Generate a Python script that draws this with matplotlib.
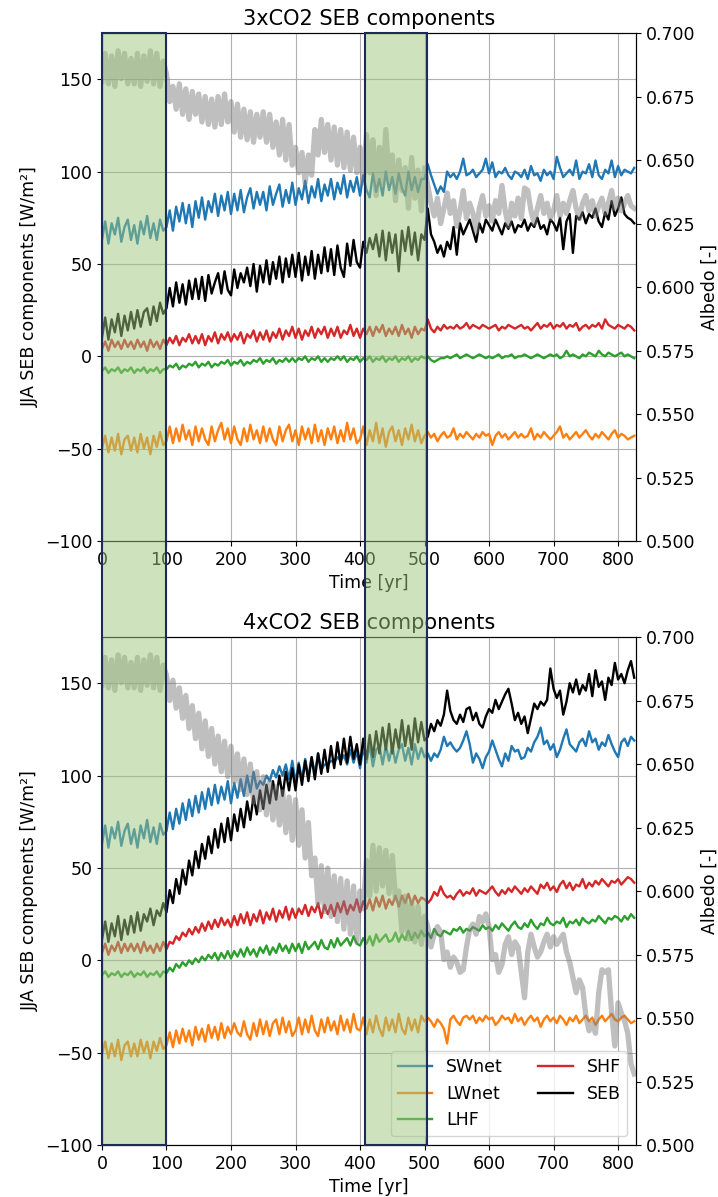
import matplotlib
matplotlib.use("Agg")
import matplotlib.pyplot as plt
import numpy as np
from matplotlib.patches import Rectangle

# years, 5-yr steps
years = np.arange(0, 826, 5)

# ---- 3xCO2 (W/m2) ----
sw_3x = [63, 73, 61, 72, 66, 75, 62, 70, 74, 63,
         71, 61, 73, 66, 76, 64, 72, 63, 74, 68,
         70, 79, 68, 81, 73, 83, 72, 82, 70, 84,
         75, 86, 74, 84, 78, 88, 76, 87, 79, 89,
         77, 88, 79, 90, 78, 86, 91, 80, 89, 82,
         89, 79, 92, 82, 88, 93, 81, 90, 83, 94,
         82, 91, 85, 95, 83, 92, 86, 96, 84, 93,
         87, 96, 85, 94, 88, 98, 86, 95, 89, 97,
         87, 98, 90, 86, 99, 89, 96, 87, 100, 90,
         97, 88, 99, 91, 87, 100, 90, 97, 89, 96,
         96, 104, 98, 93, 88, 92, 89, 100, 97, 99,
         96, 100, 107, 98, 99, 101, 97, 99, 101, 107,
         99, 105, 97, 100, 99, 102, 98, 96, 100, 99,
         97, 101, 96, 103, 98, 99, 95, 101, 98, 100,
         96, 108, 102, 97, 99, 101, 98, 106, 96, 100,
         99, 104, 97, 106, 98, 96, 101, 99, 106, 97,
         103, 98, 101, 100, 99, 102]
lw_3x = [-50, -43, -52, -44, -51, -42, -53, -45, -43, -51,
         -44, -52, -42, -50, -44, -53, -43, -49, -41, -48,
         -46, -38, -47, -39, -46, -37, -45, -40, -48, -38,
         -46, -39, -45, -48, -38, -46, -40, -36, -45, -39,
         -47, -38, -45, -48, -39, -46, -37, -45, -40, -47,
         -38, -46, -39, -45, -48, -38, -46, -40, -37, -46,
         -40, -48, -38, -45, -39, -47, -37, -46, -40, -48,
         -39, -45, -38, -47, -40, -46, -36, -45, -39, -47,
         -45, -38, -48, -40, -46, -36, -47, -39, -49, -41,
         -38, -46, -40, -48, -39, -45, -37, -46, -40, -47,
         -43, -41, -44, -42, -46, -43, -41, -44, -43, -39,
         -45, -42, -44, -41, -43, -45, -42, -44, -41, -43,
         -42, -48, -43, -41, -44, -42, -45, -43, -41, -44,
         -42, -44, -43, -39, -45, -42, -44, -41, -43, -45,
         -43, -41, -38, -44, -42, -45, -43, -41, -44, -42,
         -40, -43, -45, -42, -44, -41, -43, -45, -42, -40,
         -44, -42, -43, -45, -44, -43]
lhf_3x = [-8, -6, -9, -7, -8, -6, -9, -7, -8, -6,
          -9, -7, -8, -6, -9, -7, -8, -6, -9, -7,
          -7, -5, -6, -4, -7, -5, -6, -4, -5, -3,
          -6, -4, -5, -3, -6, -4, -5, -3, -4, -2,
          -5, -3, -4, -2, -5, -3, -4, -2, -3, -1,
          -4, -2, -3, -1, -4, -2, -3, -1, -3, -1,
          -3, -1, -2, 0, -3, -1, -2, 0, -3, -1,
          -3, -1, -2, 0, -2, 0, -3, -1, -2, 0,
          -3, -1, -2, 0, -3, -1, -2, 0, -3, -1,
          -2, 0, -3, -1, -2, 0, -3, -1, -2, 0,
          -1, 0, -2, -3, -2, -1, -1, 0, -1, 0,
          1, -1, 0, 1, 0, -1, 0, 1, 0, -1,
          0, -1, 0, 1, -1, 0, 0, 1, -1, 0,
          0, 1, 0, -1, 0, 1, 0, -1, 0, 1,
          0, 1, -1, 0, 3, 0, 1, 0, -1, 1,
          0, 2, 1, 0, 3, 1, 0, 2, 1, 0,
          1, 2, 0, 1, 0, -1]
shf_3x = [4, 8, 3, 9, 5, 8, 4, 9, 5, 8,
          4, 9, 5, 8, 3, 9, 5, 8, 4, 9,
          6, 10, 7, 11, 6, 10, 8, 12, 7, 11,
          7, 12, 6, 11, 8, 13, 7, 12, 9, 13,
          8, 12, 9, 13, 7, 12, 10, 14, 8, 13,
          9, 14, 8, 13, 10, 15, 9, 14, 11, 16,
          10, 15, 9, 14, 11, 16, 10, 15, 12, 16,
          10, 15, 11, 16, 10, 14, 12, 17, 11, 15,
          10, 15, 12, 16, 11, 16, 13, 17, 11, 15,
          12, 16, 11, 17, 12, 15, 10, 16, 12, 15,
          14, 20, 15, 13, 16, 14, 17, 15, 16, 15,
          17, 15, 16, 18, 15, 17, 16, 15, 17, 16,
          15, 16, 17, 14, 16, 15, 17, 16, 15, 16,
          17, 15, 16, 14, 16, 18, 15, 17, 16, 18,
          15, 17, 16, 18, 15, 17, 16, 18, 14, 16,
          17, 15, 17, 16, 18, 15, 20, 17, 16, 15,
          17, 16, 15, 17, 16, 14]
seb_3x = [10, 21, 9, 20, 13, 23, 11, 22, 14, 24,
          15, 25, 16, 24, 26, 17, 27, 19, 29, 23,
          26, 37, 27, 40, 29, 39, 28, 41, 31, 42,
          31, 43, 30, 44, 34, 40, 45, 34, 46, 36,
          33, 47, 37, 45, 40, 48, 38, 50, 35, 49,
          40, 52, 39, 51, 42, 54, 40, 53, 43, 55,
          43, 56, 41, 54, 44, 57, 42, 55, 45, 59,
          46, 58, 44, 60, 48, 43, 61, 49, 63, 51,
          48, 62, 56, 64, 58, 66, 54, 68, 52, 67,
          56, 66, 46, 68, 57, 70, 55, 67, 52, 66,
          63, 80, 66, 62, 56, 60, 54, 62, 58, 70,
          55, 72, 66, 70, 74, 68, 62, 72, 67, 74,
          71, 68, 74, 70, 66, 72, 69, 73, 67, 71,
          70, 74, 68, 72, 70, 75, 69, 71, 66, 74,
          72, 68, 75, 58, 73, 77, 56, 76, 74, 78,
          72, 77, 75, 80, 73, 70, 78, 74, 84, 76,
          80, 86, 77, 75, 74, 72]
alb_3x = [0.681, 0.692, 0.680, 0.691, 0.679, 0.693, 0.682, 0.692, 0.680, 0.690,
          0.680, 0.692, 0.679, 0.691, 0.681, 0.693, 0.680, 0.692, 0.679, 0.689,
          0.684, 0.673, 0.679, 0.670, 0.680, 0.668, 0.678, 0.666, 0.677, 0.668,
          0.676, 0.665, 0.675, 0.664, 0.674, 0.663, 0.675, 0.664, 0.676, 0.665,
          0.673, 0.661, 0.672, 0.659, 0.670, 0.658, 0.669, 0.657, 0.668, 0.659,
          0.669, 0.657, 0.668, 0.655, 0.665, 0.652, 0.666, 0.650, 0.664, 0.648,
          0.655, 0.645, 0.653, 0.641, 0.652, 0.644, 0.662, 0.652, 0.666, 0.653,
          0.664, 0.650, 0.663, 0.648, 0.662, 0.647, 0.661, 0.646, 0.659, 0.645,
          0.655, 0.641, 0.660, 0.645, 0.658, 0.636, 0.655, 0.640, 0.662, 0.642,
          0.652, 0.634, 0.650, 0.638, 0.647, 0.631, 0.651, 0.635, 0.646, 0.630,
          0.647, 0.640, 0.633, 0.628, 0.635, 0.625, 0.631, 0.637, 0.629, 0.634,
          0.624, 0.630, 0.638, 0.627, 0.633, 0.629, 0.622, 0.631, 0.636, 0.628,
          0.632, 0.626, 0.634, 0.629, 0.640, 0.630, 0.624, 0.633, 0.628, 0.635,
          0.627, 0.639, 0.638, 0.630, 0.625, 0.631, 0.636, 0.629, 0.633, 0.627,
          0.630, 0.636, 0.628, 0.633, 0.629, 0.634, 0.638, 0.631, 0.627, 0.633,
          0.636, 0.630, 0.634, 0.628, 0.632, 0.635, 0.629, 0.633, 0.638, 0.631,
          0.635, 0.630, 0.633, 0.636, 0.632, 0.631]

# ---- 4xCO2 (W/m2) ----
sw_4x = [63, 73, 61, 72, 66, 75, 62, 70, 74, 63,
         71, 61, 73, 66, 76, 64, 72, 63, 74, 68,
         70, 80, 71, 82, 74, 85, 76, 87, 78, 89,
         80, 91, 82, 93, 84, 95, 85, 94, 87, 97,
         85, 96, 88, 98, 89, 100, 91, 102, 93, 97,
         95, 100, 97, 103, 99, 105, 100, 106, 98, 108,
         96, 107, 98, 109, 99, 110, 101, 112, 103, 106,
         106, 108, 107, 110, 108, 111, 106, 114, 107, 113,
         104, 115, 107, 117, 105, 114, 116, 106, 116, 108,
         116, 107, 114, 117, 108, 115, 106, 117, 109, 115,
         110, 112, 108, 112, 110, 114, 121, 116, 118, 115,
         113, 115, 119, 124, 117, 107, 112, 109, 104, 110,
         113, 119, 114, 109, 105, 112, 108, 116, 113, 114,
         109, 110, 115, 113, 118, 121, 126, 117, 119, 114,
         117, 110, 114, 120, 125, 117, 115, 113, 118, 120,
         116, 124, 118, 120, 114, 118, 116, 122, 117, 113,
         110, 118, 120, 116, 121, 119]
lw_4x = [-51, -44, -53, -45, -52, -43, -54, -46, -44, -52,
         -45, -52, -43, -50, -44, -53, -44, -49, -42, -48,
         -46, -39, -47, -38, -45, -37, -44, -38, -46, -36,
         -43, -37, -44, -35, -42, -36, -43, -34, -42, -36,
         -40, -34, -39, -41, -33, -40, -43, -34, -41, -32,
         -40, -33, -41, -34, -32, -40, -31, -39, -33, -41,
         -38, -31, -40, -32, -39, -30, -38, -41, -32, -39,
         -31, -38, -33, -40, -30, -38, -32, -39, -29, -37,
         -38, -31, -40, -32, -39, -30, -37, -41, -31, -38,
         -32, -39, -29, -37, -40, -31, -38, -32, -39, -30,
         -33, -31, -33, -36, -32, -34, -37, -45, -32, -30,
         -33, -35, -31, -30, -32, -30, -34, -31, -33, -30,
         -32, -31, -35, -33, -30, -32, -31, -34, -29, -33,
         -31, -35, -32, -30, -33, -31, -36, -32, -30, -33,
         -31, -34, -30, -32, -35, -31, -33, -30, -34, -32,
         -30, -33, -31, -35, -32, -30, -33, -31, -29, -32,
         -33, -31, -30, -32, -34, -33]
lhf_4x = [-8, -6, -9, -7, -8, -6, -9, -7, -8, -6,
          -9, -7, -8, -6, -9, -7, -8, -6, -9, -6,
          -7, -4, -6, -2, -4, -1, -3, 0, -2, 1,
          -1, 2, 0, 3, 1, 4, 0, 4, 1, 5,
          1, 5, 2, 6, 2, 7, 3, 6, 2, 7,
          4, 8, 3, 7, 4, 9, 5, 8, 4, 9,
          5, 9, 4, 10, 6, 8, 10, 6, 11, 7,
          6, 11, 7, 12, 8, 10, 12, 8, 13, 9,
          8, 12, 9, 13, 8, 14, 10, 12, 14, 10,
          11, 15, 10, 14, 11, 16, 11, 15, 12, 16,
          13, 15, 12, 17, 14, 13, 16, 15, 14, 17,
          16, 18, 15, 17, 16, 18, 17, 16, 19, 17,
          18, 16, 19, 17, 20, 18, 16, 19, 21, 18,
          17, 20, 18, 22, 19, 17, 20, 19, 23, 20,
          19, 21, 20, 23, 18, 21, 20, 22, 19, 23,
          21, 20, 22, 21, 24, 22, 20, 23, 22, 24,
          23, 21, 24, 22, 25, 23]
shf_4x = [4, 9, 3, 8, 5, 10, 4, 9, 5, 9,
          5, 9, 4, 10, 5, 8, 4, 9, 5, 10,
          6, 10, 9, 13, 11, 15, 13, 17, 14, 18,
          15, 20, 16, 21, 17, 22, 18, 23, 19, 22,
          18, 24, 19, 25, 20, 26, 19, 25, 21, 27,
          20, 26, 22, 28, 21, 27, 23, 29, 22, 28,
          23, 28, 25, 30, 24, 29, 26, 31, 23, 30,
          25, 30, 24, 31, 26, 32, 25, 30, 27, 33,
          26, 32, 28, 33, 27, 34, 29, 35, 28, 33,
          30, 35, 29, 35, 31, 36, 30, 35, 31, 34,
          33, 31, 33, 37, 35, 40, 36, 34, 35, 33,
          36, 38, 35, 37, 36, 39, 35, 38, 37, 36,
          38, 40, 37, 35, 38, 36, 39, 37, 40, 38,
          36, 39, 37, 40, 38, 36, 41, 39, 42, 38,
          40, 37, 41, 43, 39, 42, 38, 41, 40, 44,
          39, 42, 40, 43, 41, 44, 42, 40, 43, 42,
          44, 41, 43, 45, 44, 42]
seb_4x = [11, 21, 10, 20, 13, 24, 11, 22, 14, 24,
          15, 26, 16, 25, 21, 28, 19, 27, 24, 31,
          26, 38, 31, 44, 36, 49, 41, 54, 46, 59,
          50, 63, 55, 67, 58, 71, 61, 74, 64, 77,
          65, 79, 70, 82, 72, 86, 76, 89, 79, 92,
          82, 95, 85, 97, 87, 100, 89, 102, 92, 104,
          92, 106, 95, 108, 97, 110, 98, 112, 101, 114,
          102, 116, 104, 118, 106, 120, 107, 121, 109, 117,
          106, 120, 109, 122, 110, 124, 112, 126, 114, 128,
          112, 125, 115, 130, 116, 127, 114, 131, 118, 129,
          119, 121, 128, 124, 130, 127, 133, 146, 135, 130,
          128, 133, 129, 136, 137, 130, 134, 128, 126, 132,
          136, 134, 141, 136, 140, 144, 147, 139, 130, 134,
          128, 132, 123, 131, 139, 136, 140, 138, 141, 158,
          147, 142, 146, 133, 140, 150, 145, 152, 144, 149,
          146, 155, 143, 157, 148, 151, 141, 153, 149, 161,
          152, 155, 150, 157, 162, 153]
alb_4x = [0.681, 0.692, 0.680, 0.691, 0.679, 0.693, 0.682, 0.692, 0.680, 0.690,
          0.680, 0.692, 0.679, 0.691, 0.681, 0.693, 0.680, 0.692, 0.679, 0.689,
          0.685, 0.675, 0.683, 0.672, 0.680, 0.668, 0.677, 0.664, 0.673, 0.660,
          0.670, 0.656, 0.667, 0.653, 0.664, 0.650, 0.661, 0.647, 0.659, 0.645,
          0.657, 0.643, 0.654, 0.640, 0.652, 0.638, 0.650, 0.635, 0.647, 0.632,
          0.645, 0.630, 0.643, 0.628, 0.641, 0.626, 0.639, 0.623, 0.637, 0.620,
          0.636, 0.618, 0.632, 0.613, 0.627, 0.606, 0.613, 0.595, 0.610, 0.592,
          0.609, 0.590, 0.606, 0.588, 0.605, 0.585, 0.604, 0.583, 0.602, 0.580,
          0.600, 0.593, 0.612, 0.598, 0.618, 0.600, 0.617, 0.602, 0.616, 0.599,
          0.614, 0.597, 0.600, 0.584, 0.598, 0.581, 0.596, 0.580, 0.594, 0.579,
          0.590, 0.586, 0.578, 0.583, 0.586, 0.584, 0.573, 0.576, 0.570, 0.574,
          0.572, 0.568, 0.569, 0.578, 0.585, 0.587, 0.583, 0.590, 0.588, 0.591,
          0.586, 0.573, 0.575, 0.568, 0.571, 0.579, 0.582, 0.575, 0.580, 0.578,
          0.568, 0.558, 0.576, 0.583, 0.578, 0.574, 0.576, 0.580, 0.583, 0.578,
          0.582, 0.579, 0.581, 0.583, 0.576, 0.572, 0.566, 0.560, 0.565, 0.562,
          0.551, 0.545, 0.548, 0.544, 0.560, 0.569, 0.568, 0.569, 0.552, 0.539,
          0.556, 0.552, 0.549, 0.544, 0.532, 0.528]

labels = ['SWnet', 'LWnet', 'LHF', 'SHF', 'SEB']
colors = ['tab:blue', 'tab:orange', 'tab:green', 'tab:red', 'black']
periods = [(0, 100), (407, 504)]

plt.rcParams['font.size'] = 12.5

fig = plt.figure(figsize=(7.18, 11.97), dpi=100)
ax_top = fig.add_axes([0.142, 0.548, 0.744, 0.4244])
ax_bot = fig.add_axes([0.142, 0.0434, 0.744, 0.4244])

panels = [
    (ax_top, '3xCO2 SEB components', [sw_3x, lw_3x, lhf_3x, shf_3x, seb_3x], alb_3x),
    (ax_bot, '4xCO2 SEB components', [sw_4x, lw_4x, lhf_4x, shf_4x, seb_4x], alb_4x),
]

for ax, title, series, alb in panels:
    for vals, lab, col in zip(series, labels, colors):
        ax.plot(years, vals, color=col, lw=1.7, label=lab)
    ax.set_xlim(0, 828)
    ax.set_ylim(-100, 175)
    ax.set_yticks([-100, -50, 0, 50, 100, 150])
    ax.set_xlabel('Time [yr]')
    ax.set_ylabel('JJA SEB components [W/m²]')
    ax.set_title(title, fontsize=15)
    ax.grid(True)

    ax2 = ax.twinx()
    ax2.plot(years, alb, color='gray', alpha=0.5, lw=3.8)
    ax2.set_ylim(0.5, 0.7)
    ax2.set_yticks(np.arange(0.5, 0.7001, 0.025))
    ax2.set_ylabel('Albedo [-]')

    if ax is ax_bot:
        ax2.legend(*ax.get_legend_handles_labels(), loc='lower right', ncol=2)

# shaded periods spanning both panels
inv = fig.transFigure.inverted()
y_lo = ax_bot.get_position().y0
y_hi = ax_top.get_position().y1
for start, end in periods:
    fx0 = inv.transform(ax_bot.transData.transform((start, 0)))[0]
    fx1 = inv.transform(ax_bot.transData.transform((end, 0)))[0]
    fig.add_artist(Rectangle((fx0, y_lo), fx1 - fx0, y_hi - y_lo,
                             transform=fig.transFigure,
                             facecolor=(0.615, 0.776, 0.486, 0.5),
                             edgecolor='#1c2b5a', lw=1.5, zorder=10))

fig.savefig('out.png', dpi=100)
